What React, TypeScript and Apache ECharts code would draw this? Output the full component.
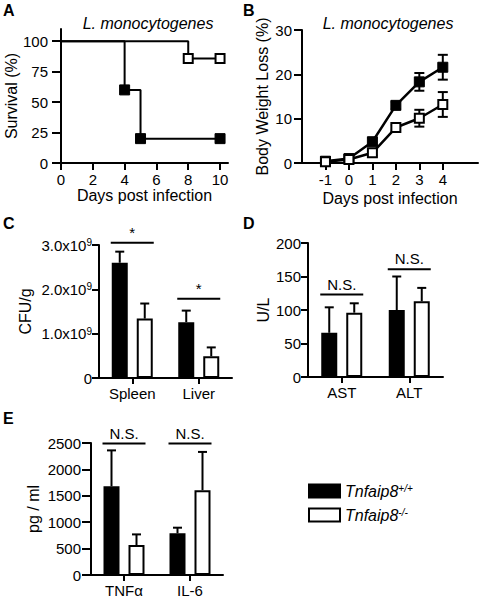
import React, { useEffect, useRef } from 'react';
import * as echarts from 'echarts';

const FONT = '"Liberation Sans", Arial, Helvetica, sans-serif';

// ---- Panel A: survival ----
const survDaysWT = [0, 4, 5, 10];
const survWT = [100, 60, 20, 20];
const survDaysKO = [0, 8, 10];
const survKO = [100, 85.7, 85.7];
const survTicksX = [0, 2, 4, 6, 8, 10];
const survTicksY = [0, 25, 50, 75, 100];

// ---- Panel B: body weight loss ----
const wDays = [-1, 0, 1, 2, 3, 4];
const wWT = [0.4, 1.0, 4.8, 13.0, 18.3, 21.6];
const wWTErr = [0.3, 0.4, 0.8, 0.8, 2.0, 2.8];
const wKO = [0.3, 0.8, 2.3, 8.0, 10.1, 13.2];
const wKOErr = [0.3, 0.4, 0.6, 0.6, 1.9, 2.8];

// ---- Panel C: CFU ----
const cfuCats = ['Spleen', 'Liver'];
const cfuWT = [2.6e9, 1.26e9];
const cfuWTErr = [0.25e9, 0.26e9];
const cfuKO = [1.34e9, 0.49e9];
const cfuKOErr = [0.34e9, 0.2e9];
const cfuSig = ['*', '*'];
const cfuSigY = [3.05e9, 1.79e9];

// ---- Panel D: AST / ALT ----
const enzCats = ['AST', 'ALT'];
const enzWT = [66, 100];
const enzWTErr = [38, 50];
const enzKO = [96, 113];
const enzKOErr = [14, 20];
const enzSig = ['N.S.', 'N.S.'];
const enzSigY = [123, 161];

// ---- Panel E: cytokines ----
const cytCats = ['TNF\u03b1', 'IL-6'];
const cytWT = [1680, 790];
const cytWTErr = [680, 106];
const cytKO = [567, 1607];
const cytKOErr = [202, 724];
const cytSig = ['N.S.', 'N.S.'];
const cytSigY = [2490, 2490];

const WT_NAME = 'Tnfaip8+/+';
const KO_NAME = 'Tnfaip8-/-';

const BAR_W = 16;
const BAR_GAP_PX = 9;
const BAR_OFF = (BAR_W + BAR_GAP_PX) / 2;
const CAP = 9;

const axisLine = { show: true, onZero: false, lineStyle: { color: '#000', width: 2 } };
const tick = (length: number, extra: any = {}) => ({
  show: true,
  length,
  lineStyle: { color: '#000', width: 2 },
  ...extra,
});
const axisLabel = { color: '#000', fontSize: 15, fontFamily: FONT };
const nameStyle = { color: '#000', fontSize: 16, fontFamily: FONT };
const plain = (v: number) => String(v);

function barErrSeries(idx: number, means: number[], errs: number[], sign: number) {
  return {
    type: 'custom',
    xAxisIndex: idx,
    yAxisIndex: idx,
    silent: true,
    z: 1,
    data: means.map((m, i) => [i, m, errs[i]]),
    renderItem: (params: any, api: any) => {
      const ci = api.value(0);
      const m = api.value(1);
      const e = api.value(2);
      const p = api.coord([ci, m]);
      const t = api.coord([ci, m + e]);
      const x = p[0] + sign * BAR_OFF;
      const st = { stroke: '#000', lineWidth: 2 };
      return {
        type: 'group',
        children: [
          { type: 'line', shape: { x1: x, y1: p[1], x2: x, y2: t[1] }, style: st },
          { type: 'line', shape: { x1: x - CAP / 2, y1: t[1], x2: x + CAP / 2, y2: t[1] }, style: st },
        ],
      };
    },
  };
}

function sigSeries(idx: number, ys: number[], labels: string[]) {
  return {
    type: 'custom',
    xAxisIndex: idx,
    yAxisIndex: idx,
    silent: true,
    clip: false,
    data: ys.map((y, i) => [i, y]),
    renderItem: (params: any, api: any) => {
      const p = api.coord([api.value(0), api.value(1)]);
      const half = BAR_OFF + BAR_W / 2 + 1;
      return {
        type: 'group',
        children: [
          {
            type: 'line',
            shape: { x1: p[0] - half, y1: p[1], x2: p[0] + half, y2: p[1] },
            style: { stroke: '#000', lineWidth: 2 },
          },
          {
            type: 'text',
            x: p[0],
            y: p[1] - 3,
            style: {
              text: labels[params.dataIndex],
              align: 'center',
              verticalAlign: 'bottom',
              fontSize: 15,
              fontFamily: FONT,
              fill: '#000',
            },
          },
        ],
      };
    },
  };
}

function barPair(idx: number, wt: number[], ko: number[]) {
  return [
    {
      type: 'bar',
      name: WT_NAME,
      xAxisIndex: idx,
      yAxisIndex: idx,
      barWidth: BAR_W,
      barGap: `${(BAR_GAP_PX / BAR_W) * 100}%`,
      z: 2,
      itemStyle: { color: '#000', borderColor: '#000', borderWidth: 2 },
      data: wt,
    },
    {
      type: 'bar',
      name: KO_NAME,
      xAxisIndex: idx,
      yAxisIndex: idx,
      barWidth: BAR_W,
      barGap: `${(BAR_GAP_PX / BAR_W) * 100}%`,
      z: 2,
      itemStyle: { color: '#fff', borderColor: '#000', borderWidth: 2 },
      data: ko,
    },
  ];
}

function lineErrSeries(days: number[], means: number[], errs: number[]) {
  return {
    type: 'custom',
    xAxisIndex: 1,
    yAxisIndex: 1,
    silent: true,
    z: 1,
    data: days.map((d, i) => [d, means[i], errs[i]]),
    renderItem: (params: any, api: any) => {
      const d = api.value(0);
      const m = api.value(1);
      const e = api.value(2);
      const top = api.coord([d, m + e]);
      const bot = api.coord([d, m - e]);
      const st = { stroke: '#000', lineWidth: 2 };
      return {
        type: 'group',
        children: [
          { type: 'line', shape: { x1: top[0], y1: top[1], x2: bot[0], y2: bot[1] }, style: st },
          { type: 'line', shape: { x1: top[0] - 5, y1: top[1], x2: top[0] + 5, y2: top[1] }, style: st },
          { type: 'line', shape: { x1: bot[0] - 5, y1: bot[1], x2: bot[0] + 5, y2: bot[1] }, style: st },
        ],
      };
    },
  };
}

const titleText = (text: string, x: number, y: number, opts: any = {}) => ({
  type: 'text',
  x,
  y,
  style: {
    text,
    fontFamily: FONT,
    fontSize: 15,
    fill: '#000',
    ...opts,
  },
});

const sciRich = {
  m: { fontSize: 15, fontFamily: FONT, color: '#000' },
  s: { fontSize: 10, fontFamily: FONT, color: '#000', verticalAlign: 'top' },
};

const legendRich = {
  i: { fontSize: 16, fontStyle: 'italic', fontFamily: FONT, color: '#000' },
  s: { fontSize: 10, fontStyle: 'italic', fontFamily: FONT, color: '#000', verticalAlign: 'top' },
};

const option: any = {
  animation: false,
  backgroundColor: '#fff',
  grid: [
    { left: 61, top: 29, width: 167, height: 134 },
    { left: 302, top: 30, width: 176, height: 133 },
    { left: 99, top: 245, width: 133, height: 133 },
    { left: 308, top: 243, width: 135, height: 134 },
    { left: 91, top: 443, width: 132, height: 132 },
  ],
  xAxis: [
    {
      type: 'value', gridIndex: 0, min: 0, max: 10.5,
      axisLine, axisTick: tick(7, { customValues: survTicksX }),
      axisLabel: { ...axisLabel, margin: 9, customValues: survTicksX },
      splitLine: { show: false },
      name: 'Days post infection', nameLocation: 'middle', nameGap: 24, nameTextStyle: nameStyle,
    },
    {
      type: 'value', gridIndex: 1, min: -2, max: 5.5,
      axisLine, axisTick: tick(7, { customValues: wDays }),
      axisLabel: { ...axisLabel, margin: 9, customValues: wDays },
      splitLine: { show: false },
      name: 'Days post infection', nameLocation: 'middle', nameGap: 27, nameTextStyle: nameStyle,
    },
    {
      type: 'category', gridIndex: 2, data: cfuCats,
      axisLine, axisTick: tick(6, { alignWithLabel: true }),
      axisLabel: { ...axisLabel, margin: 8 },
    },
    {
      type: 'category', gridIndex: 3, data: enzCats,
      axisLine, axisTick: tick(6, { alignWithLabel: true }),
      axisLabel: { ...axisLabel, margin: 8 },
    },
    {
      type: 'category', gridIndex: 4, data: cytCats,
      axisLine, axisTick: tick(6, { alignWithLabel: true }),
      axisLabel: { ...axisLabel, margin: 8 },
    },
  ],
  yAxis: [
    {
      type: 'value', gridIndex: 0, min: 0, max: 110,
      axisLine, axisTick: tick(9, { customValues: survTicksY }),
      axisLabel: { ...axisLabel, margin: 13, customValues: survTicksY, formatter: plain },
      splitLine: { show: false },
      name: 'Survival (%)', nameLocation: 'middle', nameGap: 35, nameTextStyle: nameStyle,
    },
    {
      type: 'value', gridIndex: 1, min: 0, max: 30, interval: 10,
      axisLine, axisTick: tick(8), axisLabel: { ...axisLabel, margin: 10, formatter: plain },
      splitLine: { show: false },
      name: 'Body Weight Loss (%)', nameLocation: 'middle', nameGap: 32, nameTextStyle: nameStyle,
    },
    {
      type: 'value', gridIndex: 2, min: 0, max: 3e9, interval: 1e9,
      axisLine, axisTick: tick(7),
      axisLabel: {
        ...axisLabel, margin: 7,
        formatter: (v: number) => (v === 0 ? '0' : `{m|${(v / 1e9).toFixed(1)}x10}{s|9}`),
        rich: sciRich,
      },
      splitLine: { show: false },
      name: 'CFU/g', nameLocation: 'middle', nameGap: 66, nameTextStyle: nameStyle,
    },
    {
      type: 'value', gridIndex: 3, min: 0, max: 200, interval: 50,
      axisLine, axisTick: tick(7), axisLabel: { ...axisLabel, margin: 7, formatter: plain },
      splitLine: { show: false },
      name: 'U/L', nameLocation: 'middle', nameGap: 37, nameTextStyle: nameStyle,
    },
    {
      type: 'value', gridIndex: 4, min: 0, max: 2500, interval: 500,
      axisLine, axisTick: tick(9), axisLabel: { ...axisLabel, margin: 10, formatter: plain },
      splitLine: { show: false },
      name: 'pg / ml', nameLocation: 'middle', nameGap: 50, nameTextStyle: nameStyle,
    },
  ],
  legend: {
    orient: 'vertical',
    left: 308,
    top: 483,
    padding: 0,
    icon: 'rect',
    itemWidth: 31,
    itemHeight: 13,
    itemGap: 8,
    selectedMode: false,
    data: [WT_NAME, KO_NAME],
    formatter: (name: string) =>
      name === WT_NAME ? '{i|Tnfaip8}{s|+/+}' : '{i|Tnfaip8}{s|-/-}',
    textStyle: { color: '#000', fontFamily: FONT, fontSize: 16, rich: legendRich },
  },
  graphic: [
    titleText('A', 3, 2, { fontWeight: 'bold', fontSize: 16 }),
    titleText('B', 243, 2, { fontWeight: 'bold', fontSize: 16 }),
    titleText('C', 3, 215, { fontWeight: 'bold', fontSize: 16 }),
    titleText('D', 243, 215, { fontWeight: 'bold', fontSize: 16 }),
    titleText('E', 3, 410, { fontWeight: 'bold', fontSize: 16 }),
    titleText('L. monocytogenes', 148, 23, { fontStyle: 'italic', fontSize: 16, align: 'center', verticalAlign: 'middle' }),
    titleText('L. monocytogenes', 388, 23, { fontStyle: 'italic', fontSize: 16, align: 'center', verticalAlign: 'middle' }),
  ],
  series: [
    // A
    {
      type: 'line', xAxisIndex: 0, yAxisIndex: 0, step: 'end',
      symbol: 'rect', symbolSize: 9,
      lineStyle: { color: '#000', width: 2 },
      itemStyle: { color: '#fff', borderColor: '#000', borderWidth: 2 },
      data: survDaysKO.map((d, i) => ({ value: [d, survKO[i]], symbol: i === 0 ? 'none' : 'rect' })),
    },
    {
      type: 'line', xAxisIndex: 0, yAxisIndex: 0, step: 'end',
      symbol: 'rect', symbolSize: 10,
      lineStyle: { color: '#000', width: 2 },
      itemStyle: { color: '#000', borderColor: '#000', borderWidth: 1 },
      data: survDaysWT.map((d, i) => ({ value: [d, survWT[i]], symbol: i === 0 ? 'none' : 'rect' })),
    },
    // B
    lineErrSeries(wDays, wWT, wWTErr),
    lineErrSeries(wDays, wKO, wKOErr),
    {
      type: 'line', xAxisIndex: 1, yAxisIndex: 1,
      symbol: 'rect', symbolSize: 10, z: 3,
      lineStyle: { color: '#000', width: 2.5 },
      itemStyle: { color: '#000', borderColor: '#000', borderWidth: 1 },
      data: wDays.map((d, i) => [d, wWT[i]]),
    },
    {
      type: 'line', xAxisIndex: 1, yAxisIndex: 1,
      symbol: 'rect', symbolSize: 9, z: 4,
      lineStyle: { color: '#000', width: 2.5 },
      itemStyle: { color: '#fff', borderColor: '#000', borderWidth: 2 },
      data: wDays.map((d, i) => [d, wKO[i]]),
    },
    // C
    barErrSeries(2, cfuWT, cfuWTErr, -1),
    barErrSeries(2, cfuKO, cfuKOErr, 1),
    ...barPair(2, cfuWT, cfuKO),
    sigSeries(2, cfuSigY, cfuSig),
    // D
    barErrSeries(3, enzWT, enzWTErr, -1),
    barErrSeries(3, enzKO, enzKOErr, 1),
    ...barPair(3, enzWT, enzKO),
    sigSeries(3, enzSigY, enzSig),
    // E
    barErrSeries(4, cytWT, cytWTErr, -1),
    barErrSeries(4, cytKO, cytKOErr, 1),
    ...barPair(4, cytWT, cytKO),
    sigSeries(4, cytSigY, cytSig),
  ],
};

export default function App() {
  const ref = useRef<HTMLDivElement>(null);
  useEffect(() => {
    document.body.style.margin = '0';
    const chart = echarts.init(ref.current!, null, { renderer: 'svg' });
    chart.setOption(option);
    return () => chart.dispose();
  }, []);
  return <div ref={ref} style={{ width: 481, height: 600 }} />;
}
